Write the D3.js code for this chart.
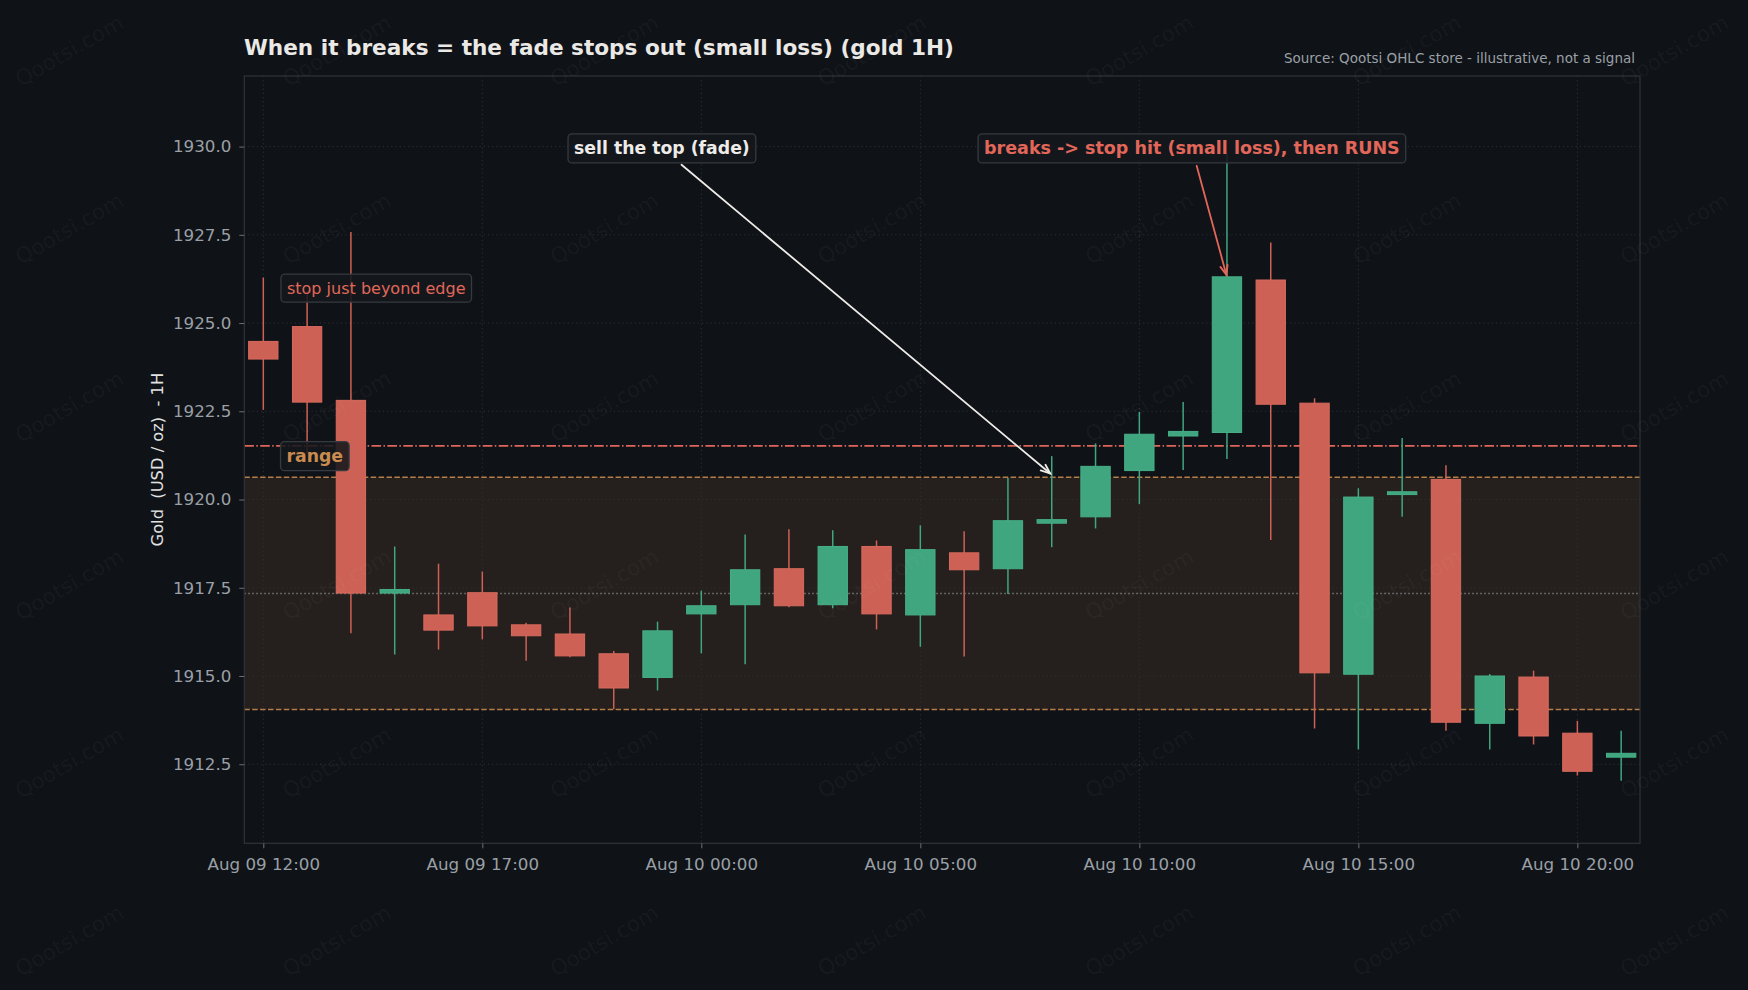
<!DOCTYPE html>
<html><head><meta charset="utf-8">
<script src="https://cdn.jsdelivr.net/npm/d3@7"></script>
<style>
html,body{margin:0;padding:0;background:#0f1217;}
svg{display:block;font-family:"DejaVu Sans",sans-serif;}
</style></head><body>
<svg id="chart" width="1748" height="990"></svg>
<script>
// ---------------- data ----------------
const candleIndex = d3.range(32);
const opens  = [1924.48,1924.90,1922.81,1917.35,1916.73,1917.36,1916.45,1916.19,1915.63,1914.96,1916.76,1917.02,1918.04,1917.02,1918.67,1916.73,1918.49,1918.04,1919.33,1919.51,1920.82,1921.80,1921.90,1926.22,1922.73,1915.05,1920.14,1920.57,1913.66,1914.97,1913.38,1912.70];
const highs  = [1926.29,1925.90,1927.58,1918.67,1918.18,1917.96,1916.51,1916.94,1915.71,1916.54,1917.42,1919.01,1919.16,1919.13,1918.84,1919.27,1919.10,1920.61,1921.23,1921.59,1922.48,1922.76,1929.80,1927.28,1922.87,1920.32,1921.74,1920.97,1915.06,1915.15,1913.73,1913.45];
const lows   = [1922.54,1921.30,1916.21,1915.61,1915.75,1916.04,1915.43,1915.53,1914.06,1914.59,1915.64,1915.33,1916.95,1916.92,1916.32,1915.83,1915.55,1917.32,1918.65,1919.18,1919.87,1920.84,1921.15,1918.85,1913.51,1912.92,1919.51,1913.45,1912.92,1913.06,1912.18,1912.03];
const closes = [1923.98,1922.76,1917.35,1917.45,1916.30,1916.42,1916.14,1915.57,1914.66,1916.28,1916.99,1918.01,1916.99,1918.67,1916.76,1918.58,1918.01,1919.40,1919.43,1920.94,1921.85,1921.93,1926.31,1922.70,1915.09,1920.07,1920.22,1913.69,1915.00,1913.30,1912.30,1912.81];

const xTickIndex  = [0,5,10,15,20,25,30];
const xTickLabels = ["Aug 09 12:00","Aug 09 17:00","Aug 10 00:00","Aug 10 05:00","Aug 10 10:00","Aug 10 15:00","Aug 10 20:00"];
const yTicks = [1912.5,1915.0,1917.5,1920.0,1922.5,1925.0,1927.5,1930.0];

const rangeLow  = 1914.05;
const rangeHigh = 1920.63;
const stopLevel = 1921.52;

const annTexts   = ["sell the top (fade)", "breaks -> stop hit (small loss), then RUNS", "stop just beyond edge", "range"];
const annAtIndex = [9.1, 21.2, 0.54, 0.53];
const annAtValue = [1930.0, 1930.0, 1926.04, 1921.28];
const annArrowIndex = [18, 22, null, null];
const annArrowValue = [1920.7, 1926.31, null, null];

const titleText  = "When it breaks = the fade stops out (small loss) (gold 1H)";
const sourceText = "Source: Qootsi OHLC store - illustrative, not a signal";
const yLabelText = "Gold  (USD / oz)  - 1H";
const watermarkText = "Qootsi.com";

// ---------------- layout ----------------
const W = 1748, H = 990;
const L = 244.3, R = 1640, T = 76, B = 843.3;
const BG = "#0f1217", RED = "#cd6155", GREEN = "#3fa67f", ORANGE = "#c48a4c";

const svg = d3.select("#chart");
svg.append("rect").attr("width", W).attr("height", H).attr("fill", BG);

const x = d3.scaleLinear().domain([-0.434, 31.43]).range([L, R]);
const y = d3.scaleLinear().domain([1910.26, 1932.0]).range([B, T]);
const step = x(1) - x(0);
const bodyW = step * 0.67;

const defs = svg.append("defs");
defs.append("clipPath").attr("id", "plotclip").append("rect")
  .attr("x", L).attr("y", T).attr("width", R - L).attr("height", B - T);

const plot = svg.append("g").attr("clip-path", "url(#plotclip)");

// range band
plot.append("rect").attr("x", L).attr("width", R - L)
  .attr("y", y(rangeHigh)).attr("height", y(rangeLow) - y(rangeHigh))
  .attr("fill", ORANGE).attr("opacity", 0.12);

// grid
const grid = plot.append("g");
grid.selectAll("line.gy").data(yTicks).join("line")
  .attr("x1", L).attr("x2", R).attr("y1", d => y(d)).attr("y2", d => y(d))
  .attr("stroke", "#2c3037").attr("stroke-width", 1).attr("stroke-dasharray", "1.2,3");
grid.selectAll("line.gx").data(xTickIndex).join("line")
  .attr("y1", T).attr("y2", B).attr("x1", d => x(d)).attr("x2", d => x(d))
  .attr("stroke", "#2c3037").attr("stroke-width", 1).attr("stroke-dasharray", "1.2,3");

// range lines
[rangeHigh, rangeLow].forEach(v => {
  plot.append("line").attr("x1", L).attr("x2", R).attr("y1", y(v)).attr("y2", y(v))
    .attr("stroke", ORANGE).attr("stroke-width", 1.6).attr("stroke-opacity", 0.9)
    .attr("stroke-dasharray", "5.5,2.4");
});
plot.append("line").attr("x1", L).attr("x2", R)
  .attr("y1", y((rangeHigh + rangeLow) / 2)).attr("y2", y((rangeHigh + rangeLow) / 2))
  .attr("stroke", "#8a8d91").attr("stroke-width", 1.5).attr("stroke-opacity", 0.8)
  .attr("stroke-dasharray", "1.5,2.5");
plot.append("line").attr("x1", L).attr("x2", R).attr("y1", y(stopLevel)).attr("y2", y(stopLevel))
  .attr("stroke", "#de6659").attr("stroke-width", 1.6)
  .attr("stroke-dasharray", "9.6,2.4,1.5,2.4");

// candles
const candles = plot.append("g").selectAll("g").data(candleIndex).join("g");
const col = i => closes[i] >= opens[i] ? GREEN : RED;
const edge = i => closes[i] >= opens[i] ? "#47b088" : "#d86a5d";
candles.append("line")
  .attr("x1", i => x(i)).attr("x2", i => x(i))
  .attr("y1", i => y(highs[i])).attr("y2", i => y(lows[i]))
  .attr("stroke", col).attr("stroke-width", 1.5);
candles.append("rect")
  .attr("x", i => x(i) - bodyW / 2).attr("width", bodyW)
  .attr("y", i => y(Math.max(opens[i], closes[i])))
  .attr("height", i => Math.max(1.5, Math.abs(y(opens[i]) - y(closes[i]))))
  .attr("fill", col).attr("stroke", edge).attr("stroke-width", 1);

// frame
svg.append("rect").attr("x", L).attr("y", T).attr("width", R - L).attr("height", B - T)
  .attr("fill", "none").attr("stroke", "#30343a").attr("stroke-width", 1.2);

// axes
const xAxis = d3.axisBottom(x).tickValues(xTickIndex)
  .tickFormat((d, i) => xTickLabels[i]).tickSize(5).tickPadding(10);
const gx = svg.append("g").attr("transform", `translate(0,${B})`).call(xAxis);
const yAxis = d3.axisLeft(y).tickValues(yTicks).tickFormat(d3.format(".1f")).tickSize(5).tickPadding(8);
const gy = svg.append("g").attr("transform", `translate(${L},0)`).call(yAxis);
[gx, gy].forEach(g => {
  g.select(".domain").remove();
  g.selectAll(".tick line").attr("stroke", "#6b7078");
  g.selectAll(".tick text").attr("fill", "#9aa0a6").attr("font-size", 16.7)
    .attr("font-family", "DejaVu Sans");
});

// y label
svg.append("text").attr("transform", `translate(157.5,${(T + B) / 2}) rotate(-90)`)
  .attr("text-anchor", "middle").attr("dominant-baseline", "central")
  .style("white-space", "pre").attr("font-size", 16.3).attr("fill", "#e2e2e2")
  .text(yLabelText);

// title & source
svg.append("text").attr("x", 244).attr("y", 55).attr("font-size", 21.6)
  .attr("font-weight", "bold").attr("fill", "#ebe9e6").text(titleText);
svg.append("text").attr("x", 1635).attr("y", 63).attr("text-anchor", "end")
  .attr("font-size", 13.5).attr("fill", "#9aa0a6").text(sourceText);

// annotations
const annStyle = [
  {color: "#eeece9", weight: "bold", size: 17.3, anchor: "middle", arrow: "#eeece9"},
  {color: "#e2675a", weight: "bold", size: 17.5, anchor: "middle", arrow: "#e2675a"},
  {color: "#e2675a", weight: "normal", size: 16, anchor: "start", arrow: null},
  {color: "#c98b4f", weight: "bold", size: 17.3, anchor: "start", arrow: null}
];
const annG = svg.append("g");
annTexts.forEach((t, i) => {
  const st = annStyle[i];
  const g = annG.append("g");
  const rect = g.append("rect");
  const tx = g.append("text").attr("x", x(annAtIndex[i])).attr("y", y(annAtValue[i]) + 1.8)
    .attr("text-anchor", st.anchor).attr("dominant-baseline", "central")
    .attr("font-size", st.size).attr("font-weight", st.weight).attr("fill", st.color).text(t);
  const bb = tx.node().getBBox();
  const px = 6, py = 4.5;
  const bx = bb.x - px, by = bb.y - py, bw = bb.width + 2 * px, bh = bb.height + 2 * py;
  rect.attr("x", bx).attr("y", by).attr("width", bw).attr("height", bh).attr("rx", 4)
    .attr("fill", "#15181d").attr("fill-opacity", 0.88)
    .attr("stroke", "#363a41").attr("stroke-width", 1.3);
  if (annArrowIndex[i] !== null) {
    const cx = bx + bw / 2, cy = by + bh / 2;
    const txp = x(annArrowIndex[i]), typ = y(annArrowValue[i]);
    const dx = txp - cx, dy = typ - cy;
    let s = Infinity;
    if (dx > 0) s = Math.min(s, (bx + bw - cx) / dx);
    if (dx < 0) s = Math.min(s, (bx - cx) / dx);
    if (dy > 0) s = Math.min(s, (by + bh - cy) / dy);
    if (dy < 0) s = Math.min(s, (by - cy) / dy);
    const len = Math.hypot(dx, dy);
    const ux = dx / len, uy = dy / len;
    const sx = cx + s * dx + ux * 3, sy = cy + s * dy + uy * 3;
    const ex = txp - ux * 2, ey = typ - uy * 2;
    const ag = annG.append("g").attr("stroke", st.arrow).attr("stroke-width", 1.8)
      .attr("fill", "none").attr("stroke-linecap", "round");
    ag.append("line").attr("x1", sx).attr("y1", sy).attr("x2", ex).attr("y2", ey);
    const hl = 10, ang = 0.38;
    const a0 = Math.atan2(uy, ux);
    const p1 = [ex - hl * Math.cos(a0 - ang), ey - hl * Math.sin(a0 - ang)];
    const p2 = [ex - hl * Math.cos(a0 + ang), ey - hl * Math.sin(a0 + ang)];
    ag.append("path").attr("d", `M${p1[0]},${p1[1]}L${ex},${ey}L${p2[0]},${p2[1]}`)
      .attr("stroke-linejoin", "miter");
  }
});

// watermark
const wmXs = d3.range(7).map(k => 69.2 + k * 267.5);
const wmYs = d3.range(6).map(k => 50.5 + k * 178);
const wm = svg.append("g").attr("pointer-events", "none");
wmYs.forEach(wy => wmXs.forEach(wx => {
  wm.append("text").attr("transform", `translate(${wx},${wy}) rotate(-30)`)
    .attr("text-anchor", "middle").attr("dominant-baseline", "central")
    .attr("font-size", 21.3).attr("fill", "#ffffff").attr("fill-opacity", 0.045)
    .text(watermarkText);
}));
</script>
</body></html>
